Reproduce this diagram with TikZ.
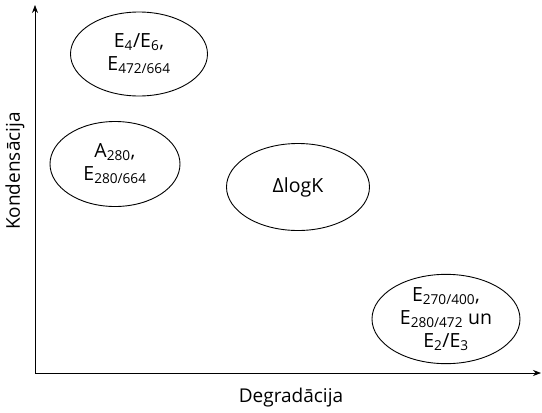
\documentclass[tikz,border=0pt]{standalone}
\usepackage{fontspec}
\setmainfont{Open Sans}
\usetikzlibrary{arrows.meta,shapes.geometric}
\begin{document}
\begin{tikzpicture}[x=1pt,y=-1pt,
  bubble/.style={draw,line width=0.9pt,ellipse,inner sep=0pt,align=center,font=\fontsize{19.5}{23}\selectfont},
  axis/.style={line width=0.7pt,-{Stealth[length=8pt,width=6pt]}},
  axlabel/.style={font=\fontsize{19}{22}\selectfont}]
\useasboundingbox (0,0) rectangle (542,413);
\coordinate (o) at (35,373);
\coordinate (ytop) at (35,5);
\coordinate (xend) at (541,373);
\draw[axis] (o) -- (ytop);
\draw[axis] (o) -- (xend);
\node[axlabel,rotate=90] (ylab) at (15,171) {Kondensācija};
\node[axlabel] (xlab) at (291,398) {Degradācija};
\node[bubble,minimum width=137pt,minimum height=84pt] (e1) at (139,54) {E\textsubscript{4}/E\textsubscript{6},\\E\textsubscript{472/664}};
\node[bubble,minimum width=130pt,minimum height=85pt] (e2) at (115,164) {A\textsubscript{280},\\E\textsubscript{280/664}};
\node[bubble,minimum width=143pt,minimum height=87pt] (e3) at (298,187) {ΔlogK};
\node[bubble,minimum width=148pt,minimum height=78pt] (e4) at (446,319) {E\textsubscript{270/400},\\E\textsubscript{280/472} un\\E\textsubscript{2}/E\textsubscript{3}};
\end{tikzpicture}
\end{document}
